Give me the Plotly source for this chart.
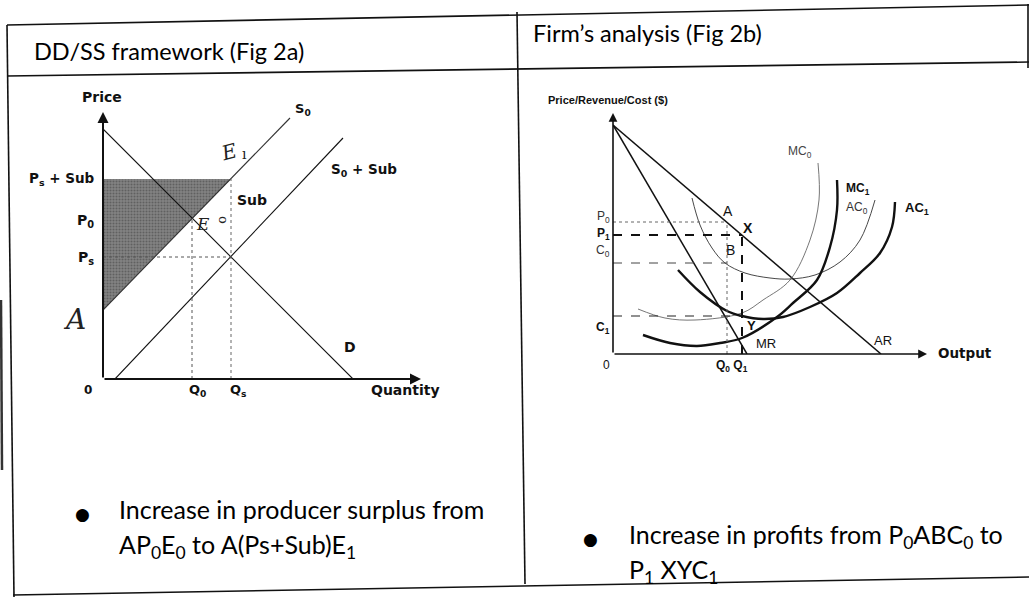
import plotly.graph_objects as go

W, H = 1029, 597

# ---------------- Fig 2a : DD/SS framework (units: origin at axis corner) -------------
d_x = [0, 250]
d_y = [250, 0]
s0_x = [0, 187]
s0_y = [69, 261]
s0sub_x = [12, 240]
s0sub_y = [0, 241]
q0_a = 89       # Q0
p0_a = 161      # P0
qs_a = 128      # Qs
ps_a = 122      # Ps
pssub_a = 200   # Ps + Sub
a_a = 69        # point A on price axis
surplus_x = [0, 0, qs_a, 0]
surplus_y = [a_a, pssub_a, pssub_a, a_a]

# ---------------- Fig 2b : Firm's analysis -------------
ar_x = [0, 268]
ar_y = [229, 0]
mr_x = [0, 134]
mr_y = [229, 0]
q0_b, q1_b = 114, 129
p0_b, p1_b = 132, 119
c0_b, c1_b = 91, 38
mc0_x = [25, 52, 82, 129, 150, 177, 197, 206, 205]
mc0_y = [45, 36, 34, 41, 54, 74, 114, 154, 191]
ac0_x = [79, 87, 99, 112, 132, 157, 177, 202, 227, 247, 262]
ac0_y = [156, 129, 106, 91, 81, 76, 75, 79, 92, 114, 154]
mc1_x = [30, 57, 84, 107, 129, 164, 180, 204, 217, 224, 224]
mc1_y = [19, 11, 8, 11, 16, 37, 51, 74, 107, 144, 174]
ac1_x = [65, 87, 114, 129, 150, 170, 197, 224, 247, 267, 279, 282]
ac1_y = [84, 62, 43, 38, 35, 37, 47, 61, 81, 101, 127, 152]

FD = "Liberation Sans"
FW = "DejaVu Sans"
FT = "Lato"
BLK = "#111111"

fig = go.Figure()

def line(x, y, xa, ya, width=1.2, color=BLK, dash="solid", shape="linear"):
    fig.add_trace(go.Scatter(x=x, y=y, xaxis=xa, yaxis=ya, mode="lines",
                             line=dict(color=color, width=width, dash=dash, shape=shape,
                                       smoothing=1.0),
                             hoverinfo="skip", showlegend=False, cliponaxis=False))

# ---- Fig 2a traces
fig.add_trace(go.Scatter(x=surplus_x, y=surplus_y, xaxis="x", yaxis="y", mode="lines",
                         fill="toself", fillcolor="#6f6f6f",
                         fillpattern=dict(shape=".", bgcolor="#848484", fgcolor="#3c3c3c",
                                          size=3, solidity=0.4),
                         line=dict(width=0), hoverinfo="skip", showlegend=False))
line(d_x, d_y, "x", "y", 1.1)
line(s0_x, s0_y, "x", "y", 1.1, color="#333")
line(s0sub_x, s0sub_y, "x", "y", 1.1)
line([q0_a, q0_a], [0, p0_a], "x", "y", 1, color="#555", dash="dot")
line([qs_a, qs_a], [0, pssub_a], "x", "y", 1, color="#666", dash="dot")
line([0, qs_a], [ps_a, ps_a], "x", "y", 1, color="#555", dash="dot")

# ---- Fig 2b traces
line(ar_x, ar_y, "x2", "y2", 1.5)
line(mr_x, mr_y, "x2", "y2", 1.5)
line(mc0_x, mc0_y, "x2", "y2", 0.9, color="#666", shape="spline")
line(ac0_x, ac0_y, "x2", "y2", 0.9, color="#333", shape="spline")
line(mc1_x, mc1_y, "x2", "y2", 2.4, shape="spline")
line(ac1_x, ac1_y, "x2", "y2", 2.4, shape="spline")
line([0, q0_b], [p0_b, p0_b], "x2", "y2", 1, color="#666", dash="dot")
line([0, q1_b], [p1_b, p1_b], "x2", "y2", 1.8, dash="dash")
line([0, q0_b], [c0_b, c0_b], "x2", "y2", 1, color="#444", dash="dash")
line([0, q1_b], [c1_b, c1_b], "x2", "y2", 1.2, color="#222", dash="dash")
line([q0_b, q0_b], [0, p0_b], "x2", "y2", 1, color="#666", dash="dot")
line([q1_b, q1_b], [0, p1_b], "x2", "y2", 2, dash="dash")

annotations = []

def arrow(xa, ya, x0, y0, x1, y1, width=2):
    annotations.append(dict(x=x1, y=y1, ax=x0, ay=y0, xref=xa, yref=ya, axref=xa, ayref=ya,
                            text="", showarrow=True, arrowhead=2, arrowsize=1.1,
                            arrowwidth=width, arrowcolor=BLK))

# axes with arrows
arrow("x", "y", 0, 0, 0, 267)
arrow("x", "y", 0, 0, 318, 0)
arrow("x2", "y2", 0, 0, 0, 241, 1.6)
arrow("x2", "y2", 0, 0, 314, 0, 1.6)

def txt(x, y, s, size=12, bold=False, family=FD, xanchor="center", yanchor="middle",
        xref="x3", yref="y3", color=BLK, angle=0, italic=False):
    if bold:
        s = "<b>" + s + "</b>"
    if italic:
        s = "<i>" + s + "</i>"
    annotations.append(dict(x=x, y=y, xref=xref, yref=yref, text=s, showarrow=False,
                            xanchor=xanchor, yanchor=yanchor, textangle=angle,
                            font=dict(family=family, size=size, color=color)))

# ---- headers & bullets
txt(32, 51, "DD/SS framework (Fig 2a)", 23.5, family=FT, xanchor="left", color="#000")
txt(531, 33, "Firm\u2019s analysis (Fig 2b)", 23.5, family=FT, xanchor="left", color="#000")
txt(82, 514, "\u25CF", 17, family=FW, color="#000")
txt(117, 509, "Increase in producer surplus from", 25, family=FT, xanchor="left", color="#000")
txt(117, 546, "AP<sub>0</sub>E<sub>0</sub> to A(Ps+Sub)E<sub>1</sub>", 25, family=FT,
    xanchor="left", color="#000")
txt(590, 539, "\u25CF", 17, family=FW, color="#000")
txt(627, 536, "Increase in profits from P<sub>0</sub>ABC<sub>0</sub> to", 25, family=FT,
    xanchor="left", color="#000")
txt(627, 571, "P<sub>1</sub> XYC<sub>1</sub>", 25, family=FT, xanchor="left", color="#000")

# ---- Fig 2a labels
txt(102, 97, "Price", 14, bold=True, family=FW)
txt(303, 109, "S<sub>0</sub>", 13, bold=True, family=FW)
txt(364, 170, "S<sub>0</sub> + Sub", 13.5, bold=True, family=FW)
txt(252, 200, "Sub", 14, bold=True, family=FW)
txt(97, pssub_a, "P<sub>s</sub> + Sub", 13.5, bold=True, xanchor="right", yref="y", family=FW)
txt(96, p0_a - 3, "P<sub>0</sub>", 14, bold=True, xanchor="right", yref="y", family=FW)
txt(96, ps_a - 1, "P<sub>s</sub>", 14, bold=True, xanchor="right", yref="y", family=FW)
txt(88, 390, "0", 12, bold=True, family=FW)
txt(q0_a + 5, 390, "Q<sub>0</sub>", 13, bold=True, xref="x", family=FW)
txt(qs_a + 7, 390, "Q<sub>s</sub>", 13, bold=True, xref="x", family=FW)
txt(405, 390, "Quantity", 14, bold=True, family=FW)
txt(350, 347, "D", 14, bold=True, family=FW)
# handwritten marks
txt(74, 319, "A", 28, family="DejaVu Serif", italic=True, color="#222")
txt(229, 152, "E", 20, family="DejaVu Serif", italic=True, color="#222", angle=-15)
txt(244, 154, "\u0131", 14, family="DejaVu Serif", color="#222")
txt(203, 224, "E", 17, family="DejaVu Serif", italic=True, color="#222")
txt(224, 220, "o", 13, family="DejaVu Serif", color="#222", angle=90)

# ---- Fig 2b labels
txt(608, 100, "Price/Revenue/Cost ($)", 11, bold=True)
txt(612, p0_b + 5, "P<sub>0</sub>", 12, xanchor="right", yref="y2", color="#333")
txt(612, p1_b + 1, "P<sub>1</sub>", 12, bold=True, xanchor="right", yref="y2")
txt(612, c0_b + 12, "C<sub>0</sub>", 12, xanchor="right", yref="y2", color="#333")
txt(612, c1_b - 12, "C<sub>1</sub>", 12, bold=True, xanchor="right", yref="y2")
txt(606, 365, "0", 12)
txt(732, 366, "Q<sub>0</sub> Q<sub>1</sub>", 12, bold=True)
txt(766, 343, "MR", 13)
txt(883, 340, "AR", 13)
txt(965, 353, "Output", 13.5, bold=True, family=FW)
txt(800, 152, "MC<sub>0</sub>", 12, color="#444")
txt(858, 189, "MC<sub>1</sub>", 12, bold=True)
txt(857, 208, "AC<sub>0</sub>", 12, color="#333")
txt(917, 208, "AC<sub>1</sub>", 13, bold=True)
txt(728, 211, "A", 14)
txt(748, 228, "X", 14, bold=True)
txt(730, 250, "B", 14)
txt(751, 325, "Y", 13, bold=True)

# ---- table frame (page pixels)
shapes = []
def seg(x0, y0, x1, y1, w=1.6, c="#111"):
    shapes.append(dict(type="line", xref="x3", yref="y3", x0=x0, y0=y0, x1=x1, y1=y1,
                       line=dict(color=c, width=w), layer="below"))

seg(7, 25, 1029, 5)
seg(7, 76, 1029, 62)
seg(7, 25, 14, 597)
seg(517, 12, 525, 584)
seg(1028, 4, 1028, 68)
seg(13, 595, 1029, 577)
seg(1, 300, 2, 470, 2.5, "#333")

fig.update_layout(
    width=W, height=H, autosize=False,
    margin=dict(l=0, r=0, t=0, b=0),
    paper_bgcolor="white", plot_bgcolor="rgba(0,0,0,0)",
    showlegend=False,
    annotations=annotations, shapes=shapes,
    xaxis=dict(domain=[103 / W, 433 / W], range=[0, 330], visible=False),
    yaxis=dict(domain=[(H - 379) / H, (H - 99) / H], range=[0, 280], visible=False),
    xaxis2=dict(domain=[613 / W, 963 / W], range=[0, 350], visible=False),
    yaxis2=dict(domain=[(H - 354) / H, (H - 94) / H], range=[0, 260], visible=False),
    xaxis3=dict(domain=[0, 1], range=[0, W], visible=False),
    yaxis3=dict(domain=[0, 1], range=[H, 0], visible=False),
)
# register x3/y3 with an empty trace
fig.add_trace(go.Scatter(x=[None], y=[None], xaxis="x3", yaxis="y3", showlegend=False,
                         hoverinfo="skip"))
fig.write_html("out.html", config={"displayModeBar": False},
               post_script="document.body.style.margin='0';")
